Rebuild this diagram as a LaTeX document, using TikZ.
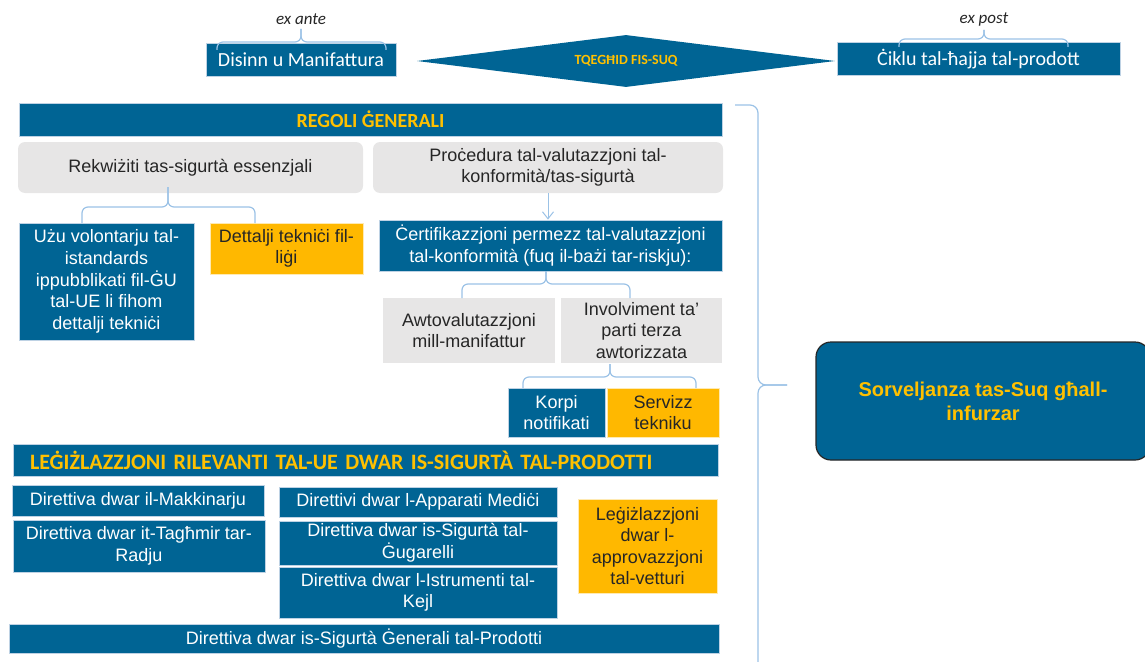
\documentclass[tikz,border=0pt]{standalone}
\usepackage{fontspec}
\setmainfont{Liberation Sans}
\newfontfamily\calibri{Carlito}
\usepackage{xcolor}
\usepackage{tikz}
\usetikzlibrary{arrows.meta}
\usetikzlibrary{shapes.geometric}
\definecolor{mtblue}{RGB}{0,100,148}
\definecolor{mtgold}{RGB}{255,192,0}
\definecolor{mtyellow}{RGB}{255,184,0}
\definecolor{mtgrey}{RGB}{231,230,230}
\definecolor{mtdark}{RGB}{38,38,38}
\definecolor{mtedge}{RGB}{190,210,228}
\definecolor{mtbrace}{RGB}{155,194,230}
\tikzstyle{box} = [draw = none, inner sep = 0, align = center, font = \fontsize{18}{21.6}\selectfont]
\tikzstyle{bluebox} = [box, fill = mtblue, draw = mtedge, line width = 0.8, text = white]
\tikzstyle{yelbox} = [box, fill = mtyellow, draw = white!70!mtyellow, line width = 0.8, text = mtdark]
\tikzstyle{greybox} = [box, fill = mtgrey, text = mtdark]
\tikzstyle{banner} = [bluebox, text = mtgold, font = \calibri\bfseries\fontsize{20}{24}\selectfont]
\tikzstyle{phase} = [bluebox, font = \calibri\fontsize{20}{24}\selectfont]
\tikzstyle{phasenote} = [inner sep = 0, text = mtdark, font = \calibri\itshape\fontsize{17}{20}\selectfont]
\tikzstyle{brc} = [draw = mtbrace, line width = 1.2, rounded corners = 6]
\tikzstyle{arr} = [draw = mtbrace, line width = 1, -{Straight Barb[length = 7, width = 11]}]

\begin{document}
\begin{tikzpicture}[x = 1pt, y = -1pt]
\useasboundingbox (0, 0) rectangle (1145, 661);
\clip (0, 0) rectangle (1145, 661);

% top row
\node [phasenote] (exante) at (301, 19) {ex ante};
\node [phase, minimum width = 190, minimum height = 33] (disinn) at (301, 59.5) {Disinn u Manifattura};
\node [diamond, aspect = 8, fill = mtblue, inner sep = 0, minimum width = 418, minimum height = 52, text = mtgold, font = \calibri\bfseries\fontsize{14}{16}\selectfont] (suq) at (626, 61) {TQEGĦID FIS-SUQ};
\node [phasenote] (expost) at (984, 19) {ex post};
\node [phase, minimum width = 283, minimum height = 33] (ciklu) at (978.5, 59) {Ċiklu tal-ħajja tal-prodott};
\draw [brc] (217, 50) |- (301, 42) -- (301, 29);
\draw [brc] (386, 50) |- (301, 42) -- (301, 29);
\draw [brc] (899, 47) |- (984, 39) -- (984, 30);
\draw [brc] (1068, 47) |- (984, 39) -- (984, 30);

% general rules
\node [banner, minimum width = 703, minimum height = 33] (regoli) at (370.5, 119.5) {REGOLI ĠENERALI};
\node [greybox, rounded corners = 7, minimum width = 345, minimum height = 51] (rekw) at (190.5, 167.5) {Rekwiżiti tas-sigurtà essenzjali};
\node [greybox, rounded corners = 7, minimum width = 350, minimum height = 51] (proc) at (548, 167.5) {Proċedura tal-valutazzjoni tal-\\konformità/tas-sigurtà};
\node [bluebox, minimum width = 175, minimum height = 117] (uzu) at (106.5, 281.5) {Użu volontarju tal-\\istandards\\ippubblikati fil-ĠU\\tal-UE li fihom\\dettalji tekniċi};
\node [yelbox, minimum width = 153, minimum height = 51] (dett) at (286.5, 248.5) {Dettalji tekniċi fil-\\liġi};
\node [bluebox, minimum width = 343, minimum height = 51] (cert) at (550.5, 245.5) {Ċertifikazzjoni permezz tal-valutazzjoni\\tal-konformità (fuq il-bażi tar-riskju):};
\node [greybox, minimum width = 172, minimum height = 65] (awto) at (469, 330.5) {Awtovalutazzjoni\\mill-manifattur};
\node [greybox, minimum width = 161, minimum height = 65] (invol) at (641.5, 330.5) {Involviment ta’\\parti terza\\awtorizzata};
\node [bluebox, minimum width = 97, minimum height = 49] (korpi) at (556.5, 412.5) {Korpi\\notifikati};
\node [yelbox, minimum width = 112, minimum height = 49] (serv) at (663, 412.5) {Servizz\\tekniku};
\draw [brc] (82, 223) |- (168, 207) -- (168, 187);
\draw [brc] (255, 223) |- (168, 207) -- (168, 187);
\draw [arr] (proc.south) -- (proc.south |- cert.north);
\draw [brc] (462, 298) |- (546, 284) -- (546, 271);
\draw [brc] (630, 298) |- (546, 284) -- (546, 271);
\draw [brc] (523, 388) |- (610, 377) -- (610, 364);
\draw [brc] (696, 388) |- (610, 377) -- (610, 364);

% market surveillance
\node [box, fill = mtblue, draw = mtdark, line width = 1.2, rounded corners = 15, minimum width = 334, minimum height = 118, text = mtgold, font = \bfseries\fontsize{20}{24}\selectfont] (sorv) at (983, 401) {Sorveljanza tas-Suq għall-\\infurzar};
\draw [brc, rounded corners = 8] (735, 105) -| (758, 385) -- (787, 385);
\draw [brc, rounded corners = 8] (758, 680) -- (758, 385) -- (787, 385);

% legislation
\node [banner, minimum width = 705, minimum height = 32, text width = 671, align = left, font = \calibri\bfseries\fontsize{22}{26}\selectfont] (leg) at (365.5, 460) {LEĠIŻLAZZJONI RILEVANTI TAL-UE DWAR IS-SIGURTÀ TAL-PRODOTTI};
\node [bluebox, minimum width = 252, minimum height = 31] (makk) at (138, 500.5) {Direttiva dwar il-Makkinarju};
\node [bluebox, minimum width = 252, minimum height = 52] (tagh) at (139, 546) {Direttiva dwar it-Tagħmir tar-\\Radju};
\node [bluebox, minimum width = 278, minimum height = 30] (appar) at (418, 502) {Direttivi dwar l-Apparati Mediċi};
\node [bluebox, minimum width = 278, minimum height = 44] (gug) at (418, 543) {Direttiva dwar is-Sigurtà tal-\\Ġugarelli};
\node [bluebox, minimum width = 278, minimum height = 51] (kejl) at (418, 592.5) {Direttiva dwar l-Istrumenti tal-\\Kejl};
\node [yelbox, minimum width = 139, minimum height = 94] (vett) at (647.5, 546) {Leġiżlazzjoni\\dwar l-\\approvazzjoni\\tal-vetturi};
\node [bluebox, minimum width = 710, minimum height = 29] (gen) at (364, 638.5) {Direttiva dwar is-Sigurtà Ġenerali tal-Prodotti};
\end{tikzpicture}
\end{document}
